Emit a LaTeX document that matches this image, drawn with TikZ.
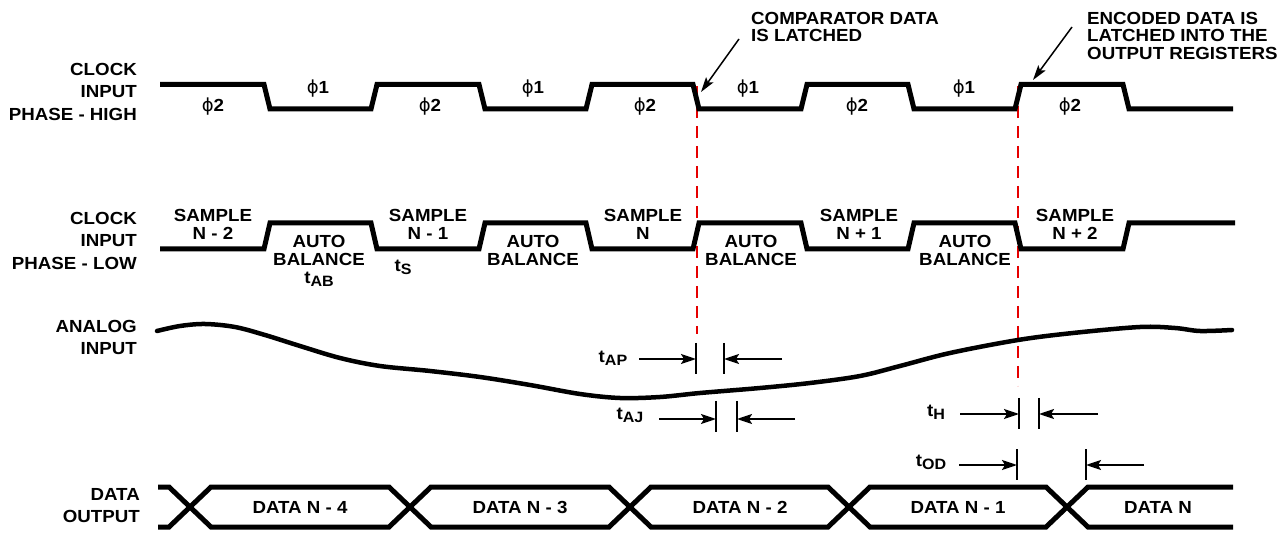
\documentclass[tikz,border=0pt]{standalone}
\usepackage{fontspec}
\newfontfamily\labfont{Liberation Sans}[FakeStretch=1.07]
\newfontfamily\phifont{DejaVu Sans}
\usetikzlibrary{arrows.meta}
\newcommand\tsb[2]{#1\raisebox{-0.35ex}{\fontsize{15}{15}\selectfont #2}}
\newcommand\ph[1]{{\phifont\mdseries\fontsize{18}{18}\selectfont ϕ}#1}
\tikzset{
  lbl/.style={font=\labfont\bfseries\fontsize{17.5}{22.5}\selectfont, inner sep=0pt, align=right, anchor=north east},
  inl/.style={font=\labfont\bfseries\fontsize{17.5}{18}\selectfont, inner sep=0pt, align=center, anchor=north},
  ann/.style={font=\labfont\bfseries\fontsize{17.5}{17.5}\selectfont, inner sep=0pt, align=left, anchor=north west},
  phil/.style={font=\labfont\bfseries\fontsize{17.5}{18}\selectfont, inner sep=0pt},
  tlab/.style={font=\labfont\bfseries\fontsize{17.5}{18}\selectfont, inner sep=0pt},
  wave/.style={line width=5pt, line join=miter},
  analog/.style={line width=4.5pt, line cap=round},
  redd/.style={draw={rgb,255:red,230;green,0;blue,0}, line width=2pt, dash pattern=on 12pt off 8pt},
  tick/.style={line width=2pt},
  dimarr/.style={line width=2pt, -{Stealth[length=15pt,width=10pt,inset=3pt]}},
  annarr/.style={line width=1.5pt, -{Stealth[length=15pt,width=9pt,inset=3pt]}},
}
\begin{document}
\begin{tikzpicture}[x=1pt,y=-1pt]
\useasboundingbox (0,0) rectangle (1285,534);
% left labels
\node[lbl] (l1) at (137,63) {CLOCK\\INPUT\\PHASE - HIGH};
\node[lbl] (l2) at (137,212) {CLOCK\\INPUT\\PHASE - LOW};
\node[lbl] (l3) at (137,320) {ANALOG\\INPUT};
\node[lbl] (l4) at (140,488) {DATA\\OUTPUT};
% red dashed reference lines
\coordinate (r1t) at (697,86); \coordinate (r1b) at (697,334);
\coordinate (r2t) at (1018,86); \coordinate (r2b) at (1018,386);
\draw[redd] (r1t) -- (r1b);
\draw[redd] (r2t) -- (r2b);
% clock phase high
\def\H{84.5}\def\L{109}
\draw[wave] (160,\H) -- (264,\H) -- (270,\L) -- (371,\L) -- (377,\H) -- (479,\H) -- (485,\L) -- (586,\L) -- (592,\H) -- (693,\H) -- (699,\L) -- (801,\L) -- (807,\H) -- (908,\H) -- (914,\L) -- (1015,\L) -- (1021,\H) -- (1123,\H) -- (1129,\L) -- (1233,\L);
% clock phase low
\def\HH{223}\def\LL{249}
\draw[wave] (160,\LL) -- (264,\LL) -- (270,\HH) -- (371,\HH) -- (377,\LL) -- (479,\LL) -- (485,\HH) -- (586,\HH) -- (592,\LL) -- (693,\LL) -- (699,\HH) -- (801,\HH) -- (807,\LL) -- (908,\LL) -- (914,\HH) -- (1015,\HH) -- (1021,\LL) -- (1123,\LL) -- (1129,\HH) -- (1235,\HH);
% phase labels
\node[phil] (p1) at (213,107) {\ph{2}};
\node[phil] (p2) at (318,89) {\ph{1}};
\node[phil] (p3) at (430,107) {\ph{2}};
\node[phil] (p4) at (533,89) {\ph{1}};
\node[phil] (p5) at (645,107) {\ph{2}};
\node[phil] (p6) at (748,89) {\ph{1}};
\node[phil] (p7) at (857,107) {\ph{2}};
\node[phil] (p8) at (964,89) {\ph{1}};
\node[phil] (p9) at (1070,107) {\ph{2}};
% row 2 labels
\node[inl] (s1) at (213,209) {SAMPLE\\N - 2};
\node[inl] (a1) at (319,235) {AUTO\\BALANCE\\\tsb{t}{AB}};
\node[inl] (s2) at (428,209) {SAMPLE\\N - 1};
\node[tlab] (ts) at (403,267) {\tsb{t}{S}};
\node[inl] (a2) at (533,235) {AUTO\\BALANCE};
\node[inl] (s3) at (643,209) {SAMPLE\\N};
\node[inl] (a3) at (751,235) {AUTO\\BALANCE};
\node[inl] (s4) at (859,209) {SAMPLE\\N + 1};
\node[inl] (a4) at (965,235) {AUTO\\BALANCE};
\node[inl] (s5) at (1075,209) {SAMPLE\\N + 2};
% annotations
\node[ann] (c1) at (751,12) {COMPARATOR DATA\\IS LATCHED};
\node[ann] (c2) at (1087,12) {ENCODED DATA IS\\LATCHED INTO THE\\OUTPUT REGISTERS};
\coordinate (c1s) at (739,39); \coordinate (c1e) at (701,92);
\coordinate (c2s) at (1072,27); \coordinate (c2e) at (1033,80);
\draw[annarr] (c1s) -- (c1e);
\draw[annarr] (c2s) -- (c2e);
% analog input
\draw[analog] plot[smooth, tension=0.55] coordinates {(157,331) (180,326) (205,324) (235,327) (265,335) (300,346) (340,358) (380,366) (430,371) (480,377) (530,385) (580,394) (620,398) (660,397) (700,393) (760,388) (810,383) (860,376) (900,366) (950,353) (1018,340) (1073,333) (1140,327) (1175,328) (1200,331) (1232,330)};
% timing marks
\node[tlab] (tap) at (613,358) {\tsb{t}{AP}};
\coordinate (ap1t) at (696,343); \coordinate (ap1b) at (696,374);
\coordinate (ap2t) at (724,343); \coordinate (ap2b) at (724,374);
\coordinate (apL) at (639,359); \coordinate (apLe) at (696,359);
\coordinate (apR) at (782,359); \coordinate (apRe) at (724,359);
\draw[tick] (ap1t) -- (ap1b); \draw[tick] (ap2t) -- (ap2b);
\draw[dimarr] (apL) -- (apLe); \draw[dimarr] (apR) -- (apRe);

\node[tlab] (taj) at (630,415) {\tsb{t}{AJ}};
\coordinate (aj1t) at (716,401); \coordinate (aj1b) at (716,432);
\coordinate (aj2t) at (737,401); \coordinate (aj2b) at (737,432);
\coordinate (ajL) at (659,419); \coordinate (ajLe) at (716,419);
\coordinate (ajR) at (795,419); \coordinate (ajRe) at (737,419);
\draw[tick] (aj1t) -- (aj1b); \draw[tick] (aj2t) -- (aj2b);
\draw[dimarr] (ajL) -- (ajLe); \draw[dimarr] (ajR) -- (ajRe);

\node[tlab] (th) at (936,412) {\tsb{t}{H}};
\coordinate (h1t) at (1019,398); \coordinate (h1b) at (1019,429);
\coordinate (h2t) at (1039,398); \coordinate (h2b) at (1039,429);
\coordinate (hL) at (960,414); \coordinate (hLe) at (1019,414);
\coordinate (hR) at (1098,414); \coordinate (hRe) at (1039,414);
\draw[tick] (h1t) -- (h1b); \draw[tick] (h2t) -- (h2b);
\draw[dimarr] (hL) -- (hLe); \draw[dimarr] (hR) -- (hRe);

\node[tlab] (tod) at (931,462) {\tsb{t}{OD}};
\coordinate (o1t) at (1017,449); \coordinate (o1b) at (1017,480);
\coordinate (o2t) at (1086,449); \coordinate (o2b) at (1086,480);
\coordinate (oL) at (959,465); \coordinate (oLe) at (1017,465);
\coordinate (oR) at (1144,465); \coordinate (oRe) at (1086,465);
\draw[tick] (o1t) -- (o1b); \draw[tick] (o2t) -- (o2b);
\draw[dimarr] (oL) -- (oLe); \draw[dimarr] (oR) -- (oRe);
% data output
\def\T{487}\def\B{527}
\draw[wave] (158,\T) -- (169,\T) -- (211,\B) -- (389,\B) -- (431,\T) -- (609,\T) -- (651,\B) -- (828,\B) -- (870,\T) -- (1046,\T) -- (1088,\B) -- (1233,\B);
\draw[wave] (158,\B) -- (169,\B) -- (211,\T) -- (389,\T) -- (431,\B) -- (609,\B) -- (651,\T) -- (828,\T) -- (870,\B) -- (1046,\B) -- (1088,\T) -- (1233,\T);
\node[phil] (d1) at (300,507) {DATA N - 4};
\node[phil] (d2) at (520,507) {DATA N - 3};
\node[phil] (d3) at (740,507) {DATA N - 2};
\node[phil] (d4) at (958,507) {DATA N - 1};
\node[phil] (d5) at (1158,507) {DATA N};
\end{tikzpicture}
\end{document}
